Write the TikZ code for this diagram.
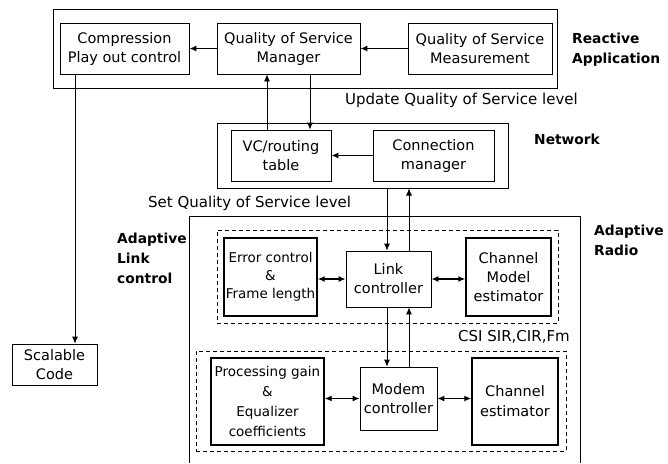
\documentclass[tikz,border=0pt]{standalone}
\usepackage{fontspec}
\setmainfont{DejaVu Sans}
\usetikzlibrary{arrows.meta}
\tikzset{
  box/.style={draw, line width=0.8pt, inner sep=1pt, align=center, font=\fontsize{14.5}{19}\selectfont},
  hbox/.style={box, line width=1.4pt},
  frame/.style={draw, line width=1pt},
  dbox/.style={draw, line width=0.9pt, dash pattern=on 4pt off 3pt},
  arr/.style={line width=0.8pt, -{Latex[length=7pt,width=6pt]}},
  harr/.style={line width=1.3pt, -{Latex[length=7pt,width=6pt]}},
  darr/.style={line width=1.3pt, {Latex[length=7pt,width=6pt]}-{Latex[length=7pt,width=6pt]}},
  lbl/.style={align=left, inner sep=0pt, font=\fontsize{15}{19}\selectfont},
  blbl/.style={align=left, inner sep=0pt, font=\bfseries\fontsize{13.8}{20}\selectfont},
}
\begin{document}
\begin{tikzpicture}[x=1pt,y=-1pt]
\useasboundingbox (0,0) rectangle (668,463);
% top frame
\node[frame, minimum width=504, minimum height=79] (top) at (305,48.5) {};
\node[box, minimum width=129, minimum height=51] (comp) at (124.5,48.5) {Compression\\Play out control};
\node[box, minimum width=143, minimum height=51] (qsm) at (288.5,48.5) {Quality of Service\\Manager};
\node[box, minimum width=144, minimum height=51] (qsmeas) at (480,48.5) {Quality of Service\\Measurement};
\node[blbl, anchor=west] (reac) at (572,50) {Reactive\\Application};
% network
\node[frame, minimum width=291, minimum height=65] (net) at (362.5,155.5) {};
\node[box, minimum width=100, minimum height=51] (vc) at (281,155.5) {VC/routing\\table};
\node[box, minimum width=121, minimum height=51] (cm) at (433.5,155.5) {Connection\\manager};
\node[blbl, anchor=west] (netl) at (534,139) {Network};
\node[lbl, anchor=west] (upd) at (345,100) {Update Quality of Service level};
\node[lbl, anchor=west] (setq) at (148,203) {Set Quality of Service level};
% adaptive radio
\coordinate (rbl) at (189,463);
\coordinate (rtl) at (189,216);
\coordinate (rtr) at (580,216);
\coordinate (rbr) at (580,463);
\draw[line width=0.9pt] (rbl) -- (rtl) -- (rtr) -- (rbr);
\node[blbl, anchor=west] (arl) at (594,240) {Adaptive\\Radio};
\node[blbl, anchor=west] (all) at (117,258) {Adaptive\\Link\\control};
% link level
\node[dbox, minimum width=341, minimum height=93] (d1) at (387.5,276.5) {};
\node[hbox, font=\fontsize{13.5}{18}\selectfont, minimum width=93, minimum height=78] (err) at (270.5,277) {Error control\\\&\\Frame length};
\node[box, minimum width=85, minimum height=56] (link) at (388.5,279) {Link\\controller};
\node[hbox, font=\fontsize{14.5}{19}\selectfont, minimum width=85, minimum height=78] (chm) at (508.5,277) {Channel\\Model\\estimator};
\node[lbl, anchor=east] (csi) at (570,337) {CSI SIR,CIR,Fm};
% modem level
\node[dbox, minimum width=370, minimum height=100] (d2) at (381,401) {};
\node[hbox, font=\fontsize{13.5}{20}\selectfont, minimum width=113, minimum height=87] (proc) at (267.5,401.5) {Processing gain\\\&\\Equalizer\\coefficients};
\node[box, minimum width=77, minimum height=63] (modem) at (398.5,398.5) {Modem\\controller};
\node[hbox, font=\fontsize{14.5}{20}\selectfont, minimum width=86, minimum height=87] (chest) at (515,401.5) {Channel\\estimator};
% scalable
\node[box, minimum width=85, minimum height=41] (scal) at (54.5,364.5) {Scalable\\Code};
% connector x positions
\coordinate (xc) at (75,0);
\coordinate (xu) at (267,0);
\coordinate (xd) at (310,0);
\coordinate (xa) at (387,0);
\coordinate (xb) at (409,0);
% connectors
\draw[harr] (qsm.west) -- (comp.east);
\draw[harr] (qsmeas.west) -- (qsm.east);
\draw[arr] (comp.south -| xc) -- (scal.north -| xc);
\draw[arr] (vc.north -| xu) -- (qsm.south -| xu);
\draw[arr] (qsm.south -| xd) -- (vc.north -| xd);
\draw[harr] (cm.west) -- (vc.east);
\draw[arr] (net.south -| xa) -- (link.north -| xa);
\draw[arr] (link.north -| xb) -- (net.south -| xb);
\draw[arr] (link.south -| xa) -- (modem.north -| xa);
\draw[arr] (modem.north -| xb) -- (link.south -| xb);
\draw[darr] (err.east |- link.west) -- (link.west);
\draw[darr] (link.east) -- (chm.west |- link.east);
\draw[darr] (proc.east |- modem.west) -- (modem.west);
\draw[darr] (modem.east) -- (chest.west |- modem.east);
\end{tikzpicture}
\end{document}
